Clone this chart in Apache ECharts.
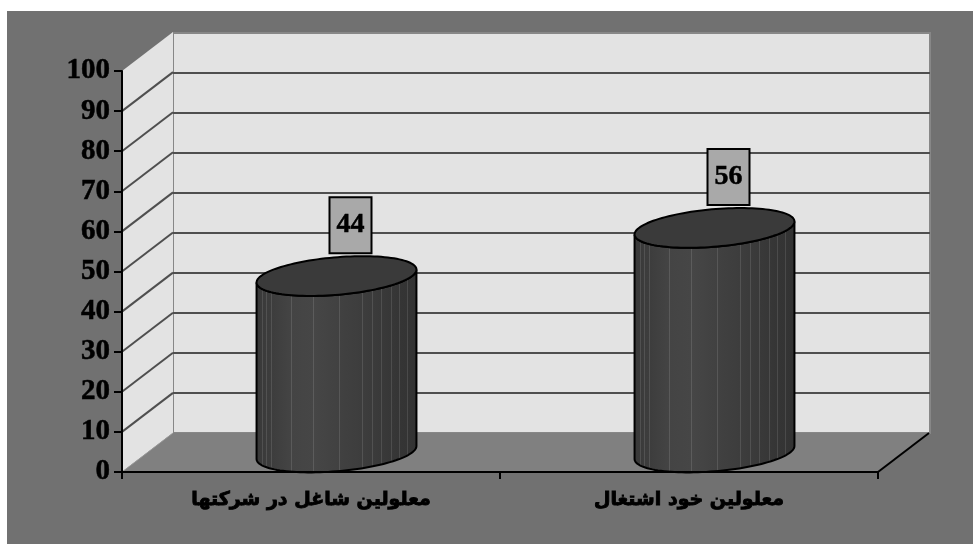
<!DOCTYPE html>
<html>
<head>
<meta charset="utf-8">
<style>
  html, body { margin: 0; padding: 0; background: #ffffff; }
  #chart { width: 973px; height: 544px; }
</style>
<script src="https://cdn.jsdelivr.net/npm/echarts@6/dist/echarts.min.js"></script>
</head>
<body>
<div id="chart"></div>
<script>
// Categories and values
var categories = ['معلولین شاغل در شرکتها', 'معلولین خود اشتغال'];
var values = [44, 56];
var yTicks = [0, 10, 20, 30, 40, 50, 60, 70, 80, 90, 100];

// Depth offset of the 3D box (back wall relative to front plane)
var DX = 51, DY = 39;

var chart = echarts.init(document.getElementById('chart'), null, { renderer: 'canvas' });

// Faint vertical streaks on the cylinder body, as gradient stops
var streaks = [0.04, 0.07, 0.10, 0.22, 0.36, 0.52, 0.66, 0.72, 0.78, 0.84, 0.89, 0.94];
function shade(f) {
  // a bit lighter on the left third, darker to the right
  var v = f < 0.3 ? 56 + f / 0.3 * 16 : 72 - (f - 0.3) / 0.7 * 22;
  return Math.round(v);
}
function grey(v) { return 'rgb(' + v + ',' + v + ',' + v + ')'; }
function bodyStops() {
  var stops = [{ offset: 0, color: grey(shade(0)) }];
  streaks.forEach(function (s) {
    var w = 0.003;
    var v = shade(s);
    stops.push({ offset: s - w, color: grey(v) });
    stops.push({ offset: s - w, color: grey(v + 22) });
    stops.push({ offset: s + w, color: grey(v + 22) });
    stops.push({ offset: s + w, color: grey(v) });
  });
  stops.push({ offset: 1, color: grey(shade(1)) });
  return stops;
}

function ellipsePt(cx, cy, r, a, b, t) {
  return [cx + r * Math.cos(t) + a * Math.sin(t), cy - b * Math.sin(t)];
}

var option = {
  backgroundColor: '#ffffff',
  animation: false,
  graphic: [{
    type: 'rect', z: -10, silent: true,
    shape: { x: 7, y: 11, width: 966, height: 533 },
    style: { fill: '#717171' }
  }],
  grid: [
    { left: 122, top: 71, right: 95, bottom: 72, show: false },
    { left: 173, top: 33, right: 43, bottom: 111, show: true,
      backgroundColor: '#e3e3e3', borderColor: '#878787', borderWidth: 2, z: 0 }
  ],
  xAxis: [
    {
      type: 'category', gridIndex: 0, data: categories, boundaryGap: true,
      axisLine: { show: true, lineStyle: { color: '#000', width: 2 } },
      axisTick: { show: true, length: 7, inside: false, alignWithLabel: false, lineStyle: { color: '#000', width: 2 } },
      axisLabel: {
        margin: 19, color: '#000', fontFamily: 'DejaVu Sans', fontWeight: 'bold', fontSize: 19,
        textBorderColor: '#000', textBorderWidth: 0.9
      },
      z: 5
    },
    {
      type: 'category', gridIndex: 1, data: categories,
      axisLine: { show: false }, axisTick: { show: false }, axisLabel: { show: false }
    }
  ],
  yAxis: [
    {
      type: 'value', gridIndex: 0, min: 0, max: 100, interval: 10,
      axisLine: { show: true, lineStyle: { color: '#000', width: 2 } },
      axisTick: { show: true, length: 8, lineStyle: { color: '#000', width: 2 } },
      axisLabel: {
        margin: 12, color: '#000', fontFamily: 'Liberation Serif', fontWeight: 'bold', fontSize: 29,
        textBorderColor: '#000', textBorderWidth: 0.5
      },
      splitLine: { show: false },
      z: 5
    },
    {
      type: 'value', gridIndex: 1, min: 0, max: 100, interval: 10,
      axisLine: { show: false }, axisTick: { show: false }, axisLabel: { show: false },
      splitLine: { show: true, showMinLine: false, showMaxLine: false,
        lineStyle: { color: '#4f4f4f', width: 2 } }
    }
  ],
  series: [
    {
      // Side wall, floor and the diagonal grid lines on the side wall
      type: 'custom', xAxisIndex: 0, yAxisIndex: 0, z: 1, silent: true,
      data: yTicks.map(function (t) { return [0, t]; }),
      renderItem: function (params, api) {
        var cs = params.coordSys;
        var v = api.value(1);
        var p = api.coord([0, v]);
        var y = p[1];
        var x0 = cs.x;
        var children = [];
        if (params.dataIndex === 0) {
          var yTop = cs.y, yBot = cs.y + cs.height, xR = cs.x + cs.width;
          children.push({
            type: 'polygon',
            shape: { points: [[x0, yTop], [x0 + DX, yTop - DY], [x0 + DX, yBot - DY], [x0, yBot]] },
            style: { fill: '#e3e3e3' }
          });
          children.push({
            type: 'polygon',
            shape: { points: [[x0, yBot], [xR, yBot], [xR + DX, yBot - DY], [x0 + DX, yBot - DY]] },
            style: { fill: '#808080' }
          });
          children.push({
            type: 'line',
            shape: { x1: xR, y1: yBot, x2: xR + DX, y2: yBot - DY },
            style: { stroke: '#000', lineWidth: 2 }
          });
        }
        if (v === 0) {
          children.push({
            type: 'line',
            shape: { x1: x0, y1: y, x2: x0 + DX, y2: y - DY },
            style: { stroke: '#9a9a9a', lineWidth: 1 }
          });
        } else if (v < 100) {
          children.push({
            type: 'line',
            shape: { x1: x0, y1: y, x2: x0 + DX, y2: y - DY },
            style: { stroke: '#4f4f4f', lineWidth: 2 }
          });
        }
        return { type: 'group', children: children };
      }
    },
    {
      // Cylinders with value boxes
      type: 'custom', xAxisIndex: 0, yAxisIndex: 0, z: 3,
      data: values.map(function (v, i) { return [i, v]; }),
      renderItem: function (params, api) {
        var cat = api.value(0), val = api.value(1);
        var base = api.coord([cat, 0]);
        var top = api.coord([cat, val]);
        var band = api.size([1, 0])[0];
        var r = band * 0.2;
        var a = DX * 0.51, b = DY * 0.51;
        var cx = base[0] + DX / 2;
        var cyB = base[1] - DY / 2;
        var cyT = top[1] - DY / 2;
        var t0 = Math.atan2(a, r);
        var N = 60, i, t;
        var body = [];
        for (i = 0; i <= N; i++) {
          t = Math.PI + t0 + Math.PI * i / N;
          body.push(ellipsePt(cx, cyB, r, a, b, t));
        }
        for (i = N; i >= 0; i--) {
          t = Math.PI + t0 + Math.PI * i / N;
          body.push(ellipsePt(cx, cyT, r, a, b, t));
        }
        var cap = [];
        for (i = 0; i < 2 * N; i++) {
          t = Math.PI * i / N;
          cap.push(ellipsePt(cx, cyT, r, a, b, t));
        }
        var boxW = 42, boxH = 56;
        var bx = cx + 14 - boxW / 2;
        var by = cyT - b - 3 - boxH;
        return {
          type: 'group',
          children: [
            {
              type: 'polygon', shape: { points: body },
              style: {
                fill: new echarts.graphic.LinearGradient(0, 0, 1, 0, bodyStops()),
                stroke: '#000', lineWidth: 2
              }
            },
            {
              type: 'polygon', shape: { points: cap },
              style: { fill: '#3a3a3a', stroke: '#000', lineWidth: 2 }
            },
            {
              type: 'rect', shape: { x: bx, y: by, width: boxW, height: boxH },
              style: { fill: '#a9a9a9', stroke: '#000', lineWidth: 2 }
            },
            {
              type: 'text',
              style: {
                x: bx + boxW / 2, y: by + boxH / 2, text: String(val),
                align: 'center', verticalAlign: 'middle',
                fill: '#000', font: 'bold 28px "Liberation Serif"',
                stroke: '#000', lineWidth: 0.5
              }
            }
          ]
        };
      }
    }
  ]
};

chart.setOption(option);
</script>
</body>
</html>
